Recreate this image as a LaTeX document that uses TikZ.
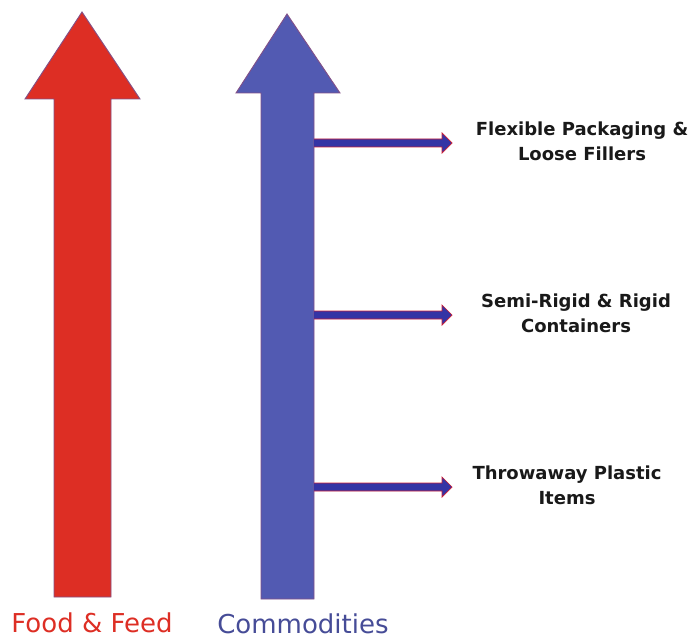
\documentclass[tikz,border=0pt]{standalone}
\usepackage{fontspec}
\setmainfont{DejaVu Sans}
\usetikzlibrary{calc,positioning}
\definecolor{feedred}{RGB}{221,46,36}
\definecolor{commblue}{RGB}{82,90,178}
\definecolor{branchblue}{RGB}{52,52,165}
\definecolor{rim}{RGB}{130,80,135}

\begin{document}
\begin{tikzpicture}[x=1pt,y=-1pt]

\tikzset{bigarrow/.style={draw=rim,line width=0.9pt,line join=miter},
branch/.style={fill=branchblue,draw=red!60!rim,line width=0.7pt,line join=miter},
itemtext/.style={font=\bfseries\fontsize{18}{25}\selectfont,align=center,text=black!90,inner sep=0pt},
baselabel/.style={font=\fontsize{26}{28}\selectfont,inner sep=0pt,anchor=base}}

\useasboundingbox (0,0) rectangle (693,639);

% Big arrows
\draw[bigarrow,fill=feedred] (82,12) -- (140,99) -- (111,99) -- (111,597) -- (54,597) -- (54,99) -- (25,99) -- cycle;
\draw[bigarrow,fill=commblue] (287,14) -- (340,93) -- (314,93) -- (314,599) -- (261,599) -- (261,93) -- (236,93) -- cycle;

% Labels under the arrows
\node[baselabel,text=feedred] (food) at (92,632) {Food \& Feed};
\node[baselabel,text=commblue!85!black] (commodities) at (303,633) {Commodities};

% Items
\node[itemtext] (flexible) at (582,141) {Flexible Packaging \&\\Loose Fillers};
\node[itemtext] (rigid) at (576,313) {Semi-Rigid \& Rigid\\Containers};
\node[itemtext] (throwaway) at (567,485) {Throwaway Plastic\\Items};

% Branches off the blue stem
\coordinate (stem) at (314,0);
\coordinate (reach) at (452,0);
\foreach \item/\y in {flexible/143, rigid/315, throwaway/487} {
  \coordinate (root) at (stem |- 0,\y);
  \coordinate (tip) at (reach |- 0,\y);
  \draw[branch] ($(root)+(0,-4)$) -- ($(tip)+(-10,-4)$) -- ($(tip)+(-10,-10)$) -- (tip)
    -- ($(tip)+(-10,10)$) -- ($(tip)+(-10,4)$) -- ($(root)+(0,4)$);
}

\end{tikzpicture}
\end{document}
